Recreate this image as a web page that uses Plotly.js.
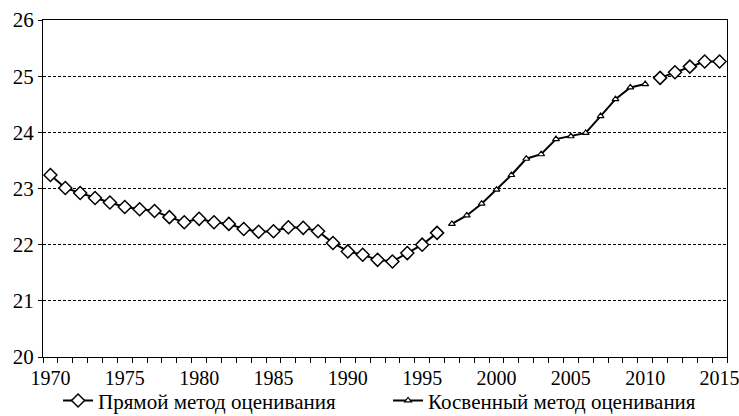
<!DOCTYPE html>
<html><head><meta charset="utf-8">
<script src="https://cdn.plot.ly/plotly-3.0.1.min.js"></script>
<style>html,body{margin:0;padding:0;background:#fff}#chart{width:739px;height:416px}</style>
</head><body><div id="chart"></div>
<script>
const years = [];
for (let y = 1970; y <= 2015; y++) years.push(y);

const directName = "Прямой метод оценивания";
const indirectName = "Косвенный метод оценивания";

// Direct method (diamonds): 1970–1996 and 2011–2015, null where missing
const direct = [
  23.24, 23.01, 22.92, 22.83, 22.75, 22.67, 22.63, 22.60, 22.49, 22.40,
  22.46, 22.40, 22.37, 22.28, 22.23, 22.24, 22.31, 22.30, 22.24, 22.03,
  21.88, 21.82, 21.73, 21.70, 21.85, 22.00, 22.21,
  null, null, null, null, null, null, null, null, null, null, null, null, null, null,
  24.97, 25.07, 25.17, 25.26, 25.26
];

// Indirect method (triangles): 1997–2010
const indirectYears = [1997,1998,1999,2000,2001,2002,2003,2004,2005,2006,2007,2008,2009,2010];
const indirect = [22.37, 22.52, 22.73, 22.98, 23.24, 23.53, 23.61, 23.88, 23.93, 23.99, 24.29, 24.59, 24.80, 24.86];

const xTickVals = [1970,1975,1980,1985,1990,1995,2000,2005,2010,2015];
const yTickVals = [20,21,22,23,24,25,26];

const font = {family: "Liberation Serif, Times New Roman, serif", size: 21, color: '#000'};
const xFont = {family: "Liberation Serif, Times New Roman, serif", size: 20, color: '#000'};

const traces = [
  {
    x: years, y: direct, name: directName, type: 'scatter', mode: 'lines+markers',
    connectgaps: false,
    line: {color: '#000', width: 2},
    marker: {symbol: 'diamond', size: 10, color: '#fff', line: {color: '#000', width: 1.5}}
  },
  {
    x: indirectYears, y: indirect, name: indirectName, type: 'scatter', mode: 'lines+markers',
    line: {color: '#000', width: 2},
    marker: {symbol: 'triangle-up', size: 6, color: '#fff', line: {color: '#000', width: 1.2}}
  }
];

const layout = {
  width: 739, height: 416,
  margin: {l: 43, r: 12, t: 20, b: 58.5, pad: 0, autoexpand: false},
  paper_bgcolor: '#fff', plot_bgcolor: '#fff',
  font: font,
  showlegend: true,
  legend: {
    orientation: 'h', x: 0.022, xanchor: 'left', y: -0.13, yanchor: 'middle',
    entrywidth: 285, entrywidthmode: 'pixels',
    font: font, bgcolor: 'rgba(0,0,0,0)'
  },
  xaxis: {
    range: [1969.5, 2015.5], tickmode: 'array', tickvals: xTickVals,
    ticks: '', showgrid: false, zeroline: false,
    showline: true, linecolor: '#000', linewidth: 1, mirror: true,
    tickfont: xFont, ticklabelstandoff: 3, automargin: false, ticklabeloverflow: 'allow',
    minor: {tickmode: 'linear', tick0: 1969.5, dtick: 1, ticks: 'outside', ticklen: 5, tickcolor: '#000', tickwidth: 1, showgrid: false}
  },
  yaxis: {
    range: [20, 26], tickmode: 'array', tickvals: yTickVals,
    ticks: 'outside', ticklen: 4, tickcolor: '#000', tickwidth: 1,
    showgrid: true, gridcolor: '#000', gridwidth: 1, griddash: '3px,2px',
    zeroline: false, showline: true, linecolor: '#000', linewidth: 1, mirror: true,
    tickfont: font, automargin: false, ticklabeloverflow: 'allow'
  }
};

Plotly.newPlot('chart', traces, layout, {displayModeBar: false, staticPlot: true});
</script>
</body></html>
